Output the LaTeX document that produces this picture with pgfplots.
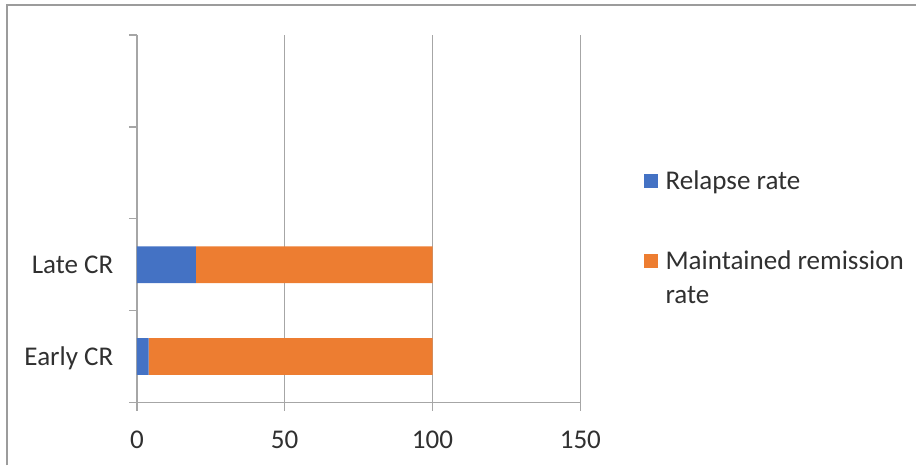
\documentclass[border=0pt]{standalone}
\usepackage{pgfplots}
\pgfplotsset{compat=1.18}
\usepackage{fontspec}
\setmainfont{Carlito}
\definecolor{cblue}{HTML}{4472C4}
\definecolor{corange}{HTML}{ED7D31}
\definecolor{axgray}{HTML}{A6A6A6}
\definecolor{framegray}{HTML}{9C9C9C}
\definecolor{txt}{HTML}{303030}
\newcommand{\cfont}{\fontsize{20.3pt}{25.5pt}\selectfont}
\begin{document}
\begin{tikzpicture}
\path (0pt,0pt) rectangle (687.75pt,349.5pt);
\draw[framegray, line width=1.5pt] (5.6pt,0pt) -- (5.6pt,345.4pt) -- (687.75pt,345.4pt);
\begin{axis}[
  at={(102.75pt,47.25pt)}, anchor=south west,
  scale only axis, width=333pt, height=276pt,
  xbar stacked, bar width=0.4,
  xmin=0, xmax=150, ymin=-0.5, ymax=3.5,
  axis lines*=left,
  axis line style={axgray, line width=1pt},
  xmajorgrids, grid style={axgray, line width=1pt},
  tick align=outside, major tick length=6pt,
  tick style={axgray, line width=1pt},
  xtick={0,50,100,150},
  /pgf/number format/assume math mode=true,
  ytick={-0.5,0.5,1.5,2.5,3.5}, yticklabels={},
  extra y ticks={0,1}, extra y tick labels={Early CR, Late CR},
  extra y tick style={major tick length=0pt, tick style={draw=none},
    yticklabel style={anchor=east, inner sep=0pt, xshift=-17.5pt, text height=13pt, text depth=0pt}},
  xticklabel style={anchor=north, inner sep=0pt, yshift=-15pt},
  every tick label/.append style={font=\cfont, text=txt},
  legend style={draw=none, fill=none, at={(1.142,0.64)}, anchor=north west,
    font=\cfont, text=txt, inner sep=0pt, column sep=4pt, row sep=41pt,
    cells={anchor=west, align=left, inner sep=0pt}},
  legend image code/.code={\fill[#1] (0pt,-5.25pt) rectangle (10.5pt,5.25pt);},
]
\addplot[fill=cblue, draw=none] coordinates {(4,0) (20,1)};
\addplot[fill=corange, draw=none,
  legend image code/.code={\path[fill=none, draw=none] (0pt,-18.5pt) rectangle (10.5pt,18.5pt);
    \fill[corange] (0pt,7.5pt) rectangle (10.5pt,18pt);}] coordinates {(96,0) (80,1)};
\legend{Relapse rate, {Maintained remission\\rate}}
\end{axis}
\end{tikzpicture}
\end{document}
